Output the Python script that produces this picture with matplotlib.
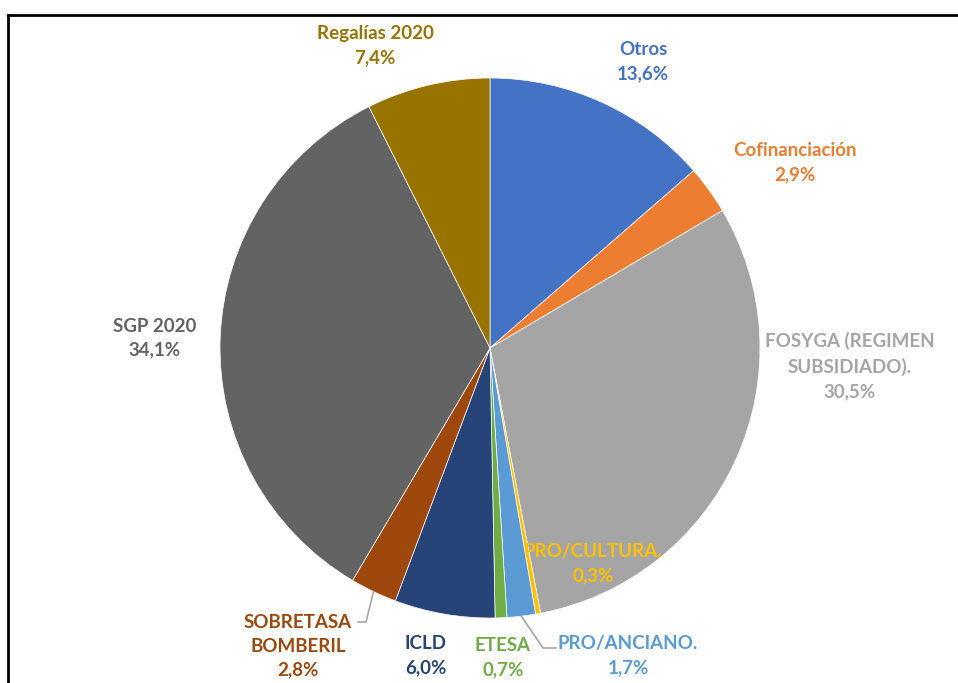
import numpy as np
import matplotlib
matplotlib.use("Agg")
import matplotlib.pyplot as plt

labels = ["Otros", "Cofinanciación", "FOSYGA (REGIMEN\nSUBSIDIADO).", "PRO/CULTURA.",
          "PRO/ANCIANO.", "ETESA", "ICLD", "SOBRETASA\nBOMBERIL", "SGP 2020", "Regalías 2020"]
values = [13.6, 2.9, 30.5, 0.3, 1.7, 0.7, 6.0, 2.8, 34.1, 7.4]
colors = ["#4472C4", "#ED7D31", "#A5A5A5", "#FFC000", "#5B9BD5",
          "#70AD47", "#264478", "#9E480E", "#636363", "#997300"]

W, H = 958, 683
fig = plt.figure(figsize=(W / 100, H / 100), dpi=100)
ax = fig.add_axes([0, 0, 1, 1])

cx, cy, R = 490, H - 348, 270
wedges, _ = ax.pie(values, colors=colors, startangle=90, counterclock=False,
                   center=(cx, cy), radius=R, frame=True,
                   wedgeprops=dict(edgecolor="white", linewidth=0.5))
ax.set_xlim(0, W)
ax.set_ylim(0, H)
ax.axis("off")

# label block centres in pixel coords
pos = [(643, 61.5), (795, 162.5), (850, 366), (593, 564), (628, 655.5),
       (503, 657.5), (426, 655.5), (298, 646), (155, 338), (375, 45.5)]
fam = ["Lato", "DejaVu Sans"]
for lab, v, c, (px, py) in zip(labels, values, colors, pos):
    txt = lab + "\n" + f"{v:.1f}".replace(".", ",") + "%"
    ax.text(px, H - py, txt, ha="center", va="center", color=c, fontsize=13.5,
            fontweight="bold", family=fam, linespacing=1.5,
            multialignment="center")

def edge_point(i, frac=1.0):
    w = wedges[i]
    ang = np.deg2rad((w.theta1 + w.theta2) / 2)
    return cx + R * frac * np.cos(ang), cy + R * frac * np.sin(ang)

x0, y0 = edge_point(7)
ax.plot([x0, 366, 358], [y0, H - 622, H - 622], color="#A6A6A6", lw=1.2)
x0, y0 = edge_point(4)
ax.plot([x0, 543, 556], [y0, H - 648, H - 648], color="#A6A6A6", lw=1.2)

# frame
ax.plot([8, W], [H - 15, H - 15], color="black", lw=2)
ax.plot([8, 8], [H - 15, 0], color="black", lw=2)

fig.savefig("out.png", dpi=100)
